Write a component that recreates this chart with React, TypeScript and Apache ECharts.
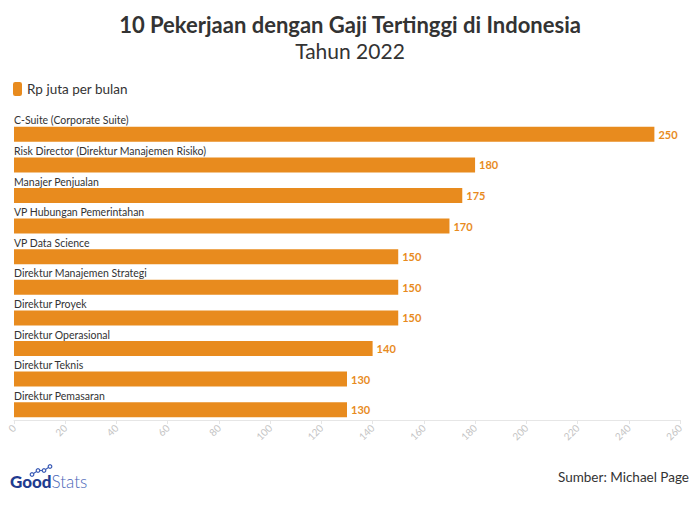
import React, { useEffect, useRef } from "react";
import * as echarts from "echarts";

const categories = [
  "C-Suite (Corporate Suite)",
  "Risk Director (Direktur Manajemen Risiko)",
  "Manajer Penjualan",
  "VP Hubungan Pemerintahan",
  "VP Data Science",
  "Direktur Manajemen Strategi",
  "Direktur Proyek",
  "Direktur Operasional",
  "Direktur Teknis",
  "Direktur Pemasaran",
];
const salaries = [250, 180, 175, 170, 150, 150, 150, 140, 130, 130];
const seriesName = "Rp juta per bulan";

const ORANGE = "#e88b1e";
const FONT = "Lato, 'Noto Sans', sans-serif";

export default function App() {
  const ref = useRef<HTMLDivElement>(null);

  useEffect(() => {
    if (!ref.current) return;
    const chart = echarts.init(ref.current, null, { renderer: "svg" });
    chart.setOption({
      animation: false,
      backgroundColor: "#ffffff",
      textStyle: { fontFamily: FONT },
      title: [
        {
          text: "10 Pekerjaan dengan Gaji Tertinggi di Indonesia",
          left: "center",
          top: 8,
          textStyle: { fontSize: 22, fontWeight: "bold", color: "#333333", fontFamily: FONT },
        },
        {
          text: "Tahun 2022",
          left: "center",
          top: 35,
          textStyle: { fontSize: 21, fontWeight: "normal", color: "#333333", fontFamily: FONT },
        },
      ],
      legend: {
        left: 8,
        top: 77,
        icon: "roundRect",
        itemWidth: 9,
        itemHeight: 14,
        itemGap: 10,
        textStyle: { fontSize: 13.5, color: "#333333", fontFamily: FONT },
        data: [seriesName],
      },
      grid: { left: 14, right: 20, top: 119, bottom: 100, containLabel: false },
      xAxis: {
        type: "value",
        min: 0,
        max: 260,
        interval: 20,
        offset: -5,
        axisLine: { show: true, lineStyle: { color: "#e6e6e6" } },
        axisTick: { show: true, length: 4, lineStyle: { color: "#e6e6e6" } },
        splitLine: { show: false },
        axisLabel: {
          rotate: 45,
          color: "#c4c4c4",
          fontSize: 10,
          fontFamily: FONT,
          margin: 6,
        },
      },
      yAxis: {
        type: "category",
        inverse: true,
        data: categories,
        axisLine: { show: false },
        axisTick: { show: false },
        axisLabel: {
          inside: true,
          margin: 0,
          align: "left",
          verticalAlign: "bottom",
          lineHeight: 28,
          color: "#333333",
          fontSize: 10.5,
          fontFamily: FONT,
        },
      },
      series: [
        {
          name: seriesName,
          type: "bar",
          data: salaries,
          barWidth: 15,
          itemStyle: { color: ORANGE },
          label: {
            show: true,
            position: "right",
            distance: 4,
            color: ORANGE,
            fontWeight: "bold",
            fontSize: 11,
            fontFamily: FONT,
          },
        },
      ],
      graphic: [
        // GoodStats logo: connected dots over the wordmark
        {
          type: "group",
          left: 10,
          top: 464,
          children: [
            { type: "polyline", shape: { points: [[22, 10], [28, 6], [34, 6], [40, 2]] }, style: { stroke: "#3b5bb5", lineWidth: 1.2, fill: "none" } },
            { type: "circle", shape: { cx: 22, cy: 10, r: 1.8 }, style: { fill: "#fff", stroke: "#3b5bb5", lineWidth: 1.2 } },
            { type: "circle", shape: { cx: 28, cy: 6, r: 1.8 }, style: { fill: "#fff", stroke: "#3b5bb5", lineWidth: 1.2 } },
            { type: "circle", shape: { cx: 34, cy: 6, r: 1.8 }, style: { fill: "#fff", stroke: "#3b5bb5", lineWidth: 1.2 } },
            { type: "circle", shape: { cx: 40, cy: 2, r: 1.8 }, style: { fill: "#fff", stroke: "#3b5bb5", lineWidth: 1.2 } },
            {
              type: "text",
              x: 0,
              y: 8,
              style: {
                text: "{a|Good}{b|Stats}",
                rich: {
                  a: { fontSize: 17, fontWeight: 900, fill: "#1f3c8f", fontFamily: FONT },
                  b: { fontSize: 17, fontWeight: 300, fill: "#4a66b8", fontFamily: FONT },
                },
              },
            },
          ],
        },
        {
          type: "text",
          right: 11,
          top: 470,
          style: { text: "Sumber: Michael Page", fontSize: 13.5, fill: "#333333", fontFamily: FONT },
        },
      ],
    });
    return () => chart.dispose();
  }, []);

  return (
    <div
      ref={ref}
      style={{ position: "absolute", left: 0, top: 0, width: 700, height: 525 }}
    />
  );
}
